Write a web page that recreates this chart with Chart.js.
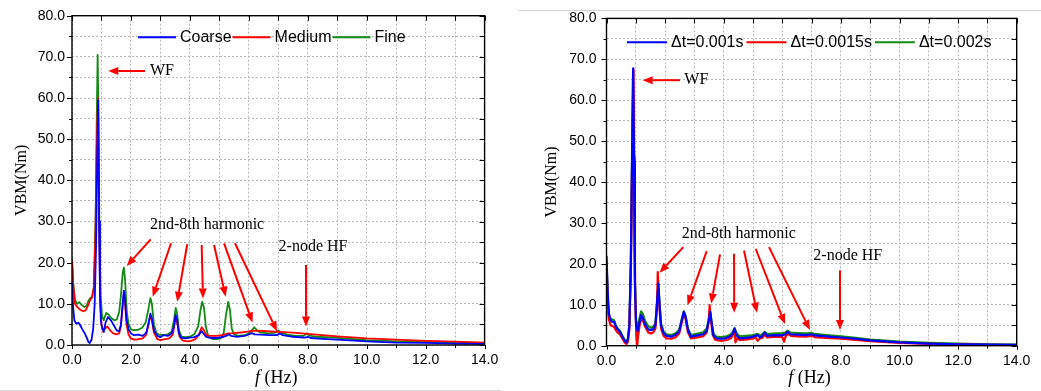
<!DOCTYPE html>
<html><head><meta charset="utf-8">
<script src="https://cdn.jsdelivr.net/npm/chart.js@4.4.1/dist/chart.umd.min.js"></script>
<style>
html,body{margin:0;padding:0;background:#fff;width:1041px;height:391px;overflow:hidden;position:relative}
canvas{position:absolute;top:0}
#c1{left:0}
#c2{left:520px}
.sep{position:absolute;background:#d6d6d6;height:1px}
</style></head><body>
<div class="sep" style="left:0;top:390px;width:501px"></div>
<div class="sep" style="left:518px;top:10px;width:523px"></div>
<canvas id="c1" width="515" height="391"></canvas>
<canvas id="c2" width="521" height="391"></canvas>
<script>
// ---------- shared axis ticks ----------
const xTicks = [0,1,2,3,4,5,6,7,8,9,10,11,12,13,14];
const yTicks = [0,5,10,15,20,25,30,35,40,45,50,55,60,65,70,75,80];

// ---------- left chart: mesh convergence ----------
const leftLabels = ['Coarse','Medium','Fine'];
const coarseF = [0,0.04,0.08,0.14,0.22,0.28,0.35,0.42,0.5,0.56,0.6,0.66,0.72,0.77,0.82,0.86,0.89,0.92,0.95,0.98,1.02,1.08,1.14,1.22,1.32,1.42,1.52,1.6,1.66,1.72,1.76,1.8,1.85,1.92,2.0,2.1,2.25,2.4,2.52,2.6,2.66,2.71,2.78,2.9,3.0,3.1,3.25,3.38,3.46,3.52,3.57,3.62,3.7,3.85,4.0,4.15,4.3,4.4,4.46,4.55,4.7,4.9,5.1,5.25,5.32,5.4,5.6,5.9,6.1,6.2,6.4,6.7,6.95,7.05,7.15,7.5,7.9,8.0,8.1,8.5,9.0,10,11,12,13,14];
const coarseV = [15.5,9,6,5.2,5.4,4.8,3.8,3.0,1.8,0.7,0.5,1.2,4,10,25,48,59.5,30,12,6,4.2,3.2,5.5,6.8,6.0,4.8,3.5,3.4,5,10,13.2,11,6,3.8,2.8,2.4,2.5,2.2,3,5.5,7.6,6.5,3.5,2.2,1.9,2.4,2.2,2.8,4.5,7.3,6,3,1.8,1.6,1.8,1.9,2.4,3.4,2.8,2.0,1.7,1.7,1.9,2.3,2.6,2.2,2.0,2.3,2.9,2.6,2.5,2.4,2.4,2.8,2.4,2.0,1.8,2.0,1.7,1.5,1.3,0.9,0.6,0.5,0.35,0.25];
const mediumF = [0,0.04,0.1,0.18,0.28,0.38,0.46,0.54,0.62,0.68,0.74,0.79,0.84,0.88,0.92,0.96,1.0,1.06,1.12,1.2,1.3,1.4,1.5,1.6,1.66,1.72,1.76,1.8,1.85,1.92,2.0,2.1,2.25,2.4,2.52,2.6,2.66,2.71,2.78,2.9,3.0,3.15,3.3,3.42,3.52,3.58,3.65,3.75,3.9,4.05,4.2,4.3,4.4,4.48,4.56,4.7,4.9,5.1,5.3,5.5,5.8,6.0,6.2,6.5,7.0,7.5,8.0,8.5,9.0,10,11,12,13,14];
const mediumV = [20.5,15,10,9.2,8.6,8.2,8.4,9.5,11,11.5,14,25,48,60,30,10,5,3.2,4,4.5,3.5,2.8,2.6,2.8,4.5,9.5,12.5,10,5,2.5,1.6,1.3,1.4,1.6,2.5,5,7.2,6,3,1.4,1.2,1.4,1.6,2.5,6.8,5,2,1.1,0.9,1.0,1.5,2.5,4.3,3.5,2.4,2.2,2.2,2.4,2.8,2.9,3.1,3.3,3.5,3.4,3.2,3.0,2.7,2.4,2.1,1.6,1.3,1.0,0.8,0.6];
const fineF = [0,0.04,0.1,0.17,0.24,0.32,0.42,0.5,0.56,0.62,0.68,0.74,0.8,0.84,0.87,0.9,0.93,0.97,1.02,1.08,1.16,1.24,1.34,1.44,1.52,1.6,1.66,1.72,1.76,1.8,1.86,1.92,2.0,2.1,2.25,2.38,2.5,2.6,2.66,2.71,2.78,2.86,2.95,3.1,3.25,3.38,3.46,3.52,3.57,3.63,3.72,3.85,4.0,4.15,4.28,4.36,4.42,4.48,4.54,4.62,4.75,4.9,5.05,5.15,5.22,5.3,5.36,5.42,5.5,5.65,5.85,6.0,6.1,6.18,6.28,6.4,6.7,6.9,7.0,7.1,7.3,7.6,7.85,7.96,8.06,8.3,8.9,10,11,12,13,14];
const fineV = [21,15,11,10,10.4,9.8,9.2,9.6,10.8,11.4,11.6,14,30,55,70.5,55,28,12,7,6,7.8,7.4,6.5,6.0,6.2,8,12,17.5,18.8,16,8,5,3.8,3.6,3.7,4.2,5.5,9,11.4,10,5,3,2.5,2.4,2.6,3.2,6,9.0,7.5,3.5,2.0,1.9,2.0,2.6,4.5,8.5,10.5,9,4.5,2.2,1.5,1.4,1.6,3,7,10.5,8.5,4,2.6,2.2,2.4,2.7,3.5,4.3,3.6,3.0,2.8,3.0,3.5,3.0,2.5,2.2,2.2,2.8,2.3,2.0,1.8,1.2,0.9,0.7,0.55,0.4];

// ---------- right chart: time-step convergence ----------
const rightLabels = ['\u0394t=0.001s','\u0394t=0.0015s','\u0394t=0.002s'];
const dt1F = [0,0.04,0.08,0.14,0.2,0.26,0.32,0.38,0.46,0.54,0.62,0.68,0.73,0.78,0.83,0.87,0.91,0.94,0.97,1.01,1.06,1.12,1.18,1.24,1.32,1.42,1.52,1.6,1.67,1.73,1.77,1.81,1.86,1.95,2.05,2.2,2.35,2.48,2.58,2.64,2.7,2.78,2.88,3.0,3.15,3.3,3.42,3.5,3.54,3.58,3.65,3.75,3.9,4.05,4.2,4.3,4.37,4.44,4.55,4.75,4.95,5.1,5.16,5.24,5.32,5.4,5.48,5.6,5.8,6.0,6.1,6.18,6.28,6.5,6.8,7.0,7.1,7.5,8.0,8.5,9.0,10,11,12,13,14];
const dt1V = [22,13,8,6.2,5.8,5.8,4.6,4.0,3.4,2.2,1.2,0.8,1.5,5,20,45,67.8,45,15,5,3.6,5.5,7.5,6.8,5.2,4,3.8,4.1,5,11,15.2,10,5,3,2.4,2.2,2.6,3.5,6.5,8.3,7,3.8,2.2,2.4,2.6,2.8,3.6,6.5,8.3,6,2.5,1.8,1.7,1.8,2.2,2.8,4.2,2.5,1.8,1.9,2.1,2.4,2.6,2.0,2.4,3.2,2.4,2.5,2.6,2.5,2.8,3.4,2.8,2.7,2.6,2.8,2.5,2.3,2.0,1.7,1.3,0.8,0.5,0.35,0.25,0.2];
const dt15F = [0,0.04,0.08,0.14,0.2,0.26,0.32,0.38,0.46,0.54,0.62,0.68,0.73,0.78,0.83,0.87,0.92,0.95,0.98,1.02,1.05,1.08,1.13,1.19,1.25,1.33,1.43,1.52,1.6,1.67,1.72,1.75,1.78,1.82,1.87,1.95,2.05,2.2,2.35,2.48,2.58,2.64,2.7,2.78,2.88,3.0,3.15,3.3,3.42,3.49,3.52,3.56,3.62,3.7,3.8,3.95,4.1,4.25,4.33,4.37,4.4,4.45,4.55,4.75,4.95,5.1,5.16,5.24,5.32,5.4,5.48,5.6,5.8,6.0,6.06,6.12,6.2,6.3,6.5,6.8,7.0,7.1,7.5,8.0,8.5,9.0,10,11,12,13,14];
const dt15V = [20,11,6.5,5,4.8,4.6,3.8,3.2,2.8,1.8,0.8,0.4,1,4,18,42,67.5,40,12,2,0,2.5,5,6.6,6,4.5,3.2,3.0,3.3,4.2,9,18,13,8,4,2.4,1.8,1.7,2.0,3,6,8.0,6.5,3.2,1.8,1.9,2.1,2.3,3.2,6,9.9,6.5,2.8,1.5,1.3,1.2,1.4,1.8,3,3.8,0.8,1.8,1.4,1.5,1.7,1.9,1.2,1.8,1.9,2.7,2.0,2.1,2.2,2.1,1.0,2.4,2.9,2.4,2.3,2.2,2.4,2.1,1.9,1.7,1.4,1.1,0.7,0.45,0.3,0.2,0.15];
const dt2F = [0,0.04,0.08,0.14,0.2,0.26,0.32,0.38,0.46,0.54,0.62,0.68,0.73,0.78,0.83,0.87,0.905,0.94,0.97,1.01,1.06,1.12,1.18,1.24,1.32,1.42,1.52,1.6,1.67,1.73,1.77,1.81,1.86,1.95,2.05,2.2,2.35,2.48,2.58,2.64,2.7,2.78,2.88,3.0,3.15,3.3,3.42,3.5,3.54,3.58,3.65,3.75,3.9,4.05,4.2,4.3,4.37,4.44,4.55,4.75,4.95,5.1,5.16,5.24,5.32,5.4,5.48,5.6,5.8,6.0,6.1,6.18,6.28,6.5,6.8,7.0,7.1,7.5,8.0,8.5,9.0,10,11,12,13,14];
const dt2V = [21,12,7.5,6.6,6.4,6.2,5.0,4.3,3.6,2.5,1.4,1.0,1.8,5,20,44,66,46,16,6,4.5,6.5,8.4,7.8,6,4.8,4.4,4.6,5.5,11,14.8,10.5,5.5,3.4,2.8,2.6,3.0,3.9,6.8,8.4,7.3,4.2,2.6,2.8,3.0,3.3,4.2,6.8,8.0,6.2,2.9,2.2,2.1,2.2,2.6,3.2,4.3,3.0,2.3,2.4,2.5,2.8,2.9,2.5,2.8,3.4,2.9,2.9,3.0,3.0,3.2,3.7,3.2,3.1,3.0,3.1,2.9,2.6,2.3,1.9,1.5,1.0,0.7,0.5,0.35,0.25];

// ---------- annotations (data coordinates) ----------
const leftNotes = [
  {t:'WF', x:2.647, y:66.57},
  {t:'2nd-8th harmonic', x:2.647, y:29.32},
  {t:'2-node HF', x:7.01, y:23.76}
];
const leftArrows = [
  [2.477,66.57,1.232,66.57],
  [2.67,25.68,1.856,19.19],
  [3.36,24.71,2.74,11.73],
  [3.91,24.47,3.57,10.52],
  [4.40,24.30,4.445,11.30],
  [4.82,24.30,5.215,11.73],
  [5.16,24.71,6.125,5.47],
  [5.53,24.71,6.956,3.35],
  [7.94,19.44,7.94,4.49]
];
const rightNotes = [
  {t:'WF', x:2.655, y:64.9},
  {t:'2nd-8th harmonic', x:2.567, y:27.35},
  {t:'2-node HF', x:7.058, y:22.07}
];
const rightArrows = [
  [2.509,64.9,1.235,64.9],
  [2.621,24.09,1.809,17.81],
  [3.420,23.11,2.765,9.90],
  [3.874,22.31,3.573,10.32],
  [4.352,22.48,4.358,8.08],
  [4.693,23.28,5.137,8.08],
  [5.092,23.70,6.092,5.28],
  [5.546,24.09,6.945,3.82],
  [7.969,18.42,7.969,3.82]
];

const SANS = '"Liberation Sans", Arial, sans-serif';
const SERIF = '"Liberation Serif", "Times New Roman", serif';
const colors = ['#0000ff','#ff0000','#138a13'];

function pts(f, v){ return f.map((x,i)=>({x:x, y:v[i]})); }

function makeChart(id, o){
  const canvas = document.getElementById(id);
  const W = canvas.width, H = canvas.height;
  const plugin = {
    id:'deco',
    afterDatasetsDraw(chart){
      const ctx = chart.ctx, xs = chart.scales.x, ys = chart.scales.y;
      ctx.save();
      ctx.strokeStyle = '#ff0000'; ctx.fillStyle = '#ff0000'; ctx.lineWidth = 2;
      o.arrows.forEach(a=>{
        const x1 = xs.getPixelForValue(a[0]), y1 = ys.getPixelForValue(a[1]);
        const x2 = xs.getPixelForValue(a[2]), y2 = ys.getPixelForValue(a[3]);
        const ang = Math.atan2(y2-y1, x2-x1), hl = 10, hw = 4;
        const bx = x2 - hl*Math.cos(ang), by = y2 - hl*Math.sin(ang);
        ctx.beginPath(); ctx.moveTo(x1,y1); ctx.lineTo(bx,by); ctx.stroke();
        ctx.beginPath(); ctx.moveTo(x2,y2);
        ctx.lineTo(bx + hw*Math.sin(ang), by - hw*Math.cos(ang));
        ctx.lineTo(bx - hw*Math.sin(ang), by + hw*Math.cos(ang));
        ctx.closePath(); ctx.fill();
      });
      ctx.fillStyle = '#000'; ctx.font = '16px ' + SERIF;
      ctx.textBaseline = 'middle'; ctx.textAlign = 'left';
      o.notes.forEach(n=>{
        ctx.fillText(n.t, xs.getPixelForValue(n.x), ys.getPixelForValue(n.y));
      });
      ctx.restore();
    },
    afterDraw(chart){
      const ctx = chart.ctx, a = chart.chartArea, xs = chart.scales.x, ys = chart.scales.y;
      ctx.save();
      ctx.strokeStyle = '#000'; ctx.lineWidth = 1.4;
      ctx.strokeRect(a.left, a.top, a.right-a.left, a.bottom-a.top);
      ctx.lineWidth = 1;
      ctx.beginPath();
      xTicks.forEach(t=>{
        const x = Math.round(xs.getPixelForValue(t)) + 0.5;
        ctx.moveTo(x, a.top); ctx.lineTo(x, a.top + 5);
        ctx.moveTo(x, a.bottom); ctx.lineTo(x, a.bottom + (t%2===0?4:3));
      });
      yTicks.forEach(t=>{
        const y = Math.round(ys.getPixelForValue(t)) + 0.5;
        ctx.moveTo(a.left, y); ctx.lineTo(a.left - (t%10===0?5:3), y);
        ctx.moveTo(a.right, y); ctx.lineTo(a.right - 5, y);
      });
      ctx.stroke();
      ctx.font = '16px ' + SANS; ctx.textBaseline = 'middle'; ctx.textAlign = 'left';
      let x = o.legend.x;
      const y = o.legend.y;
      chart.data.datasets.forEach(ds=>{
        ctx.strokeStyle = ds.borderColor; ctx.lineWidth = 2;
        ctx.beginPath(); ctx.moveTo(x, y); ctx.lineTo(x + o.legend.len, y); ctx.stroke();
        ctx.fillStyle = '#000';
        const tx = x + o.legend.len + 4;
        ctx.fillText(ds.label, tx, y);
        x = tx + ctx.measureText(ds.label).width + o.legend.gap;
      });
      const f1 = 'italic 18px ' + SERIF, f2 = '18px ' + SERIF;
      ctx.font = f1; const w1 = ctx.measureText('f').width;
      ctx.font = f2; const w2 = ctx.measureText(' (Hz)').width;
      const cx = (a.left + a.right)/2 - 2;
      let sx = cx - (w1 + w2)/2;
      ctx.fillStyle = '#000';
      ctx.font = f1; ctx.fillText('f', sx, 378);
      ctx.font = f2; ctx.fillText(' (Hz)', sx + w1, 378);
      ctx.restore();
    }
  };
  return new Chart(canvas, {
    type:'line',
    data:{ datasets: o.series.map((s,i)=>({
      label:s.label, data:pts(s.f, s.v), borderColor:colors[i], backgroundColor:colors[i],
      borderWidth:o.lw, pointRadius:0, tension:0, fill:false, borderJoinStyle:'round'
    }))},
    options:{
      responsive:false, animation:false, devicePixelRatio:1,
      layout:{padding:{left:0, top:o.area.top, right:W - o.area.right, bottom:0}},
      plugins:{legend:{display:false}, tooltip:{enabled:false}},
      scales:{
        x:{type:'linear', min:0, max:14,
          afterFit(s){ s.height = H - o.area.bottom; },
          afterBuildTicks(s){ s.ticks = xTicks.map(v=>({value:v})); },
          ticks:{autoSkip:false, maxRotation:0, padding:7, color:'#000',
            font:{family:SANS, size:14},
            callback:(v)=> (v%2===0 ? Number(v).toFixed(1) : '')},
          grid:{color:'#b8b8b8', lineWidth:1, drawTicks:false},
          border:{display:false, dash:[2,2]}
        },
        y:{type:'linear', min:0, max:80,
          afterFit(s){ s.width = o.area.left; },
          afterBuildTicks(s){ s.ticks = yTicks.map(v=>({value:v})); },
          ticks:{autoSkip:false, padding:o.ytp, color:'#000',
            font:{family:SANS, size:14},
            callback:(v)=> (v%10===0 ? Number(v).toFixed(1) : '')},
          grid:{color:'#b8b8b8', lineWidth:1, drawTicks:false},
          border:{display:false, dash:[2,2]},
          title:{display:true, text:'VBM(Nm)', color:'#000',
            font:{family:SERIF, size:16}, padding:{top:o.ytitle, bottom:0}}
        }
      }
    },
    plugins:[plugin]
  });
}

makeChart('c1', {
  series:[{label:leftLabels[0], f:coarseF, v:coarseV},{label:leftLabels[1], f:mediumF, v:mediumV},{label:leftLabels[2], f:fineF, v:fineV}],
  area:{left:72, right:484.6, top:15.7, bottom:345},
  notes:leftNotes, arrows:leftArrows, lw:1.8, ytp:7, ytitle:12.4,
  legend:{x:138, y:37.3, len:38, gap:1}
});
makeChart('c2', {
  series:[{label:rightLabels[0], f:dt1F, v:dt1V},{label:rightLabels[1], f:dt15F, v:dt15V},{label:rightLabels[2], f:dt2F, v:dt2V}],
  area:{left:86.5, right:496.7, top:16.7, bottom:345.7},
  notes:rightNotes, arrows:rightArrows, lw:2.2, ytp:10, ytitle:21.9,
  legend:{x:107, y:42.3, len:40, gap:3}
});
</script>
</body></html>
